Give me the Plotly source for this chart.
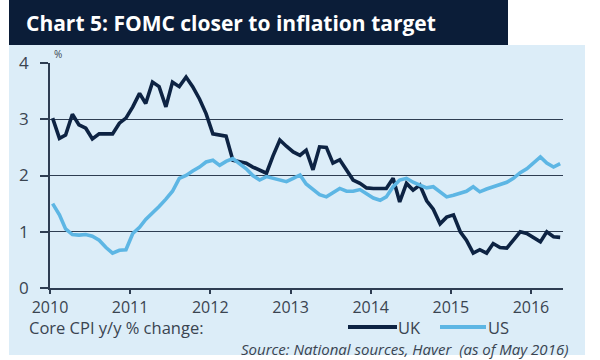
import pandas as pd
import plotly.graph_objects as go

# ---- data (core CPI y/y %, monthly Jan 2010 - May 2016) ----
start_month = "2010-01-01"
uk = [3.02, 2.66, 2.72, 3.09, 2.90, 2.84, 2.65, 2.74, 2.74, 2.74, 2.93, 3.02,
      3.22, 3.46, 3.28, 3.66, 3.58, 3.22, 3.66, 3.58, 3.75, 3.58, 3.36, 3.10,
      2.74, 2.72, 2.70, 2.27, 2.25, 2.22, 2.15, 2.10, 2.04, 2.35, 2.63, 2.52,
      2.42, 2.36, 2.45, 2.10, 2.51, 2.50, 2.22, 2.28, 2.10, 1.92, 1.86, 1.78,
      1.77, 1.77, 1.77, 1.95, 1.53, 1.86, 1.74, 1.83, 1.55, 1.40, 1.14, 1.26,
      1.30, 1.00, 0.85, 0.62, 0.68, 0.62, 0.79, 0.72, 0.71, 0.85, 1.00, 0.97,
      0.90, 0.82, 1.00, 0.91, 0.90]
us = [1.50, 1.30, 1.05, 0.95, 0.94, 0.95, 0.92, 0.85, 0.72, 0.62, 0.67, 0.68,
      0.97, 1.08, 1.22, 1.33, 1.45, 1.58, 1.72, 1.95, 2.00, 2.08, 2.15, 2.24,
      2.27, 2.18, 2.25, 2.30, 2.22, 2.12, 2.00, 1.92, 1.98, 1.95, 1.92, 1.89,
      1.95, 2.01, 1.85, 1.75, 1.66, 1.62, 1.70, 1.77, 1.72, 1.72, 1.75, 1.68,
      1.60, 1.56, 1.62, 1.80, 1.92, 1.95, 1.88, 1.83, 1.78, 1.80, 1.70, 1.62,
      1.65, 1.68, 1.72, 1.80, 1.71, 1.76, 1.80, 1.84, 1.88, 1.95, 2.05, 2.12,
      2.22, 2.33, 2.22, 2.15, 2.21]
year_ticks = ["2010", "2011", "2012", "2013", "2014", "2015", "2016"]
y_ticks = [0, 1, 2, 3, 4]

dates = pd.date_range(start_month, periods=len(uk), freq="MS") + pd.Timedelta(days=12)

# ---- layout geometry (pixels) ----
W, H = 600, 360
L, R, T, B = 50, 37, 63, 72
PW, PH = W - L - R, H - T - B

def px(x):
    return (x - L) / PW

def py(y):
    return (H - B - y) / PH

NAVY = "#0b1d38"
UKC = "#0d2343"
USC = "#5db6e4"
BG = "#dcedf8"
GRID = "#2e3d52"
TXT = "#3a4450"
FONT = "Open Sans"

fig = go.Figure()
fig.add_trace(go.Scatter(x=dates, y=uk, mode="lines", name="UK",
                         line=dict(color=UKC, width=3.6), showlegend=False))
fig.add_trace(go.Scatter(x=dates, y=us, mode="lines", name="US",
                         line=dict(color=USC, width=3.6), showlegend=False))

shapes = [
    dict(type="rect", xref="paper", yref="paper", x0=px(9), x1=px(585),
         y0=py(355), y1=py(45), fillcolor=BG, line_width=0, layer="below"),
    dict(type="rect", xref="paper", yref="paper", x0=px(9), x1=px(508),
         y0=py(45), y1=py(0), fillcolor=NAVY, line_width=0, layer="above"),
    dict(type="line", xref="paper", yref="paper", x0=px(348), x1=px(397),
         y0=py(327), y1=py(327), line=dict(color=UKC, width=4)),
    dict(type="line", xref="paper", yref="paper", x0=px(440), x1=px(486),
         y0=py(327), y1=py(327), line=dict(color=USC, width=4)),
]

annotations = [
    dict(text="<b>Chart 5: FOMC closer to inflation target</b>", xref="paper", yref="paper",
         x=px(24), y=py(23), xanchor="left", yanchor="middle", showarrow=False,
         font=dict(family=FONT, size=21, color="white")),
    dict(text="%", xref="paper", yref="paper", x=px(52), y=py(54),
         xanchor="left", yanchor="middle", showarrow=False,
         font=dict(family=FONT, size=10, color=TXT)),
    dict(text="Core CPI y/y % change:", xref="paper", yref="paper", x=px(27), y=py(327),
         xanchor="left", yanchor="middle", showarrow=False,
         font=dict(family=FONT, size=16.5, color=TXT)),
    dict(text="UK", xref="paper", yref="paper", x=px(396), y=py(327),
         xanchor="left", yanchor="middle", showarrow=False,
         font=dict(family=FONT, size=16.5, color=TXT)),
    dict(text="US", xref="paper", yref="paper", x=px(486), y=py(327),
         xanchor="left", yanchor="middle", showarrow=False,
         font=dict(family=FONT, size=16.5, color=TXT)),
    dict(text="<i>Source: National sources, Haver  (as of May 2016)</i>", xref="paper", yref="paper",
         x=px(570), y=py(349), xanchor="right", yanchor="middle", showarrow=False,
         font=dict(family=FONT, size=15, color=TXT)),
]

fig.update_layout(
    width=W, height=H,
    margin=dict(l=L, r=R, t=T, b=B),
    paper_bgcolor="white",
    plot_bgcolor="rgba(0,0,0,0)",
    shapes=shapes,
    annotations=annotations,
    font=dict(family=FONT, color=TXT),
    xaxis=dict(
        type="date",
        range=["2010-01-01", "2016-05-26"],
        tickvals=[f"{y}-01-01" for y in year_ticks],
        ticktext=year_ticks,
        showgrid=False, zeroline=False,
        showline=True, linecolor=GRID, linewidth=1.5,
        ticks="outside", ticklen=4, tickcolor=GRID, tickwidth=1.5,
        tickfont=dict(family=FONT, size=16, color=TXT),
    ),
    yaxis=dict(
        range=[0, 4],
        tickvals=y_ticks,
        showgrid=True, gridcolor=GRID, gridwidth=1.2,
        zeroline=False,
        showline=True, linecolor=GRID, linewidth=1.5,
        ticks="outside", ticklen=8, tickcolor=GRID, tickwidth=1.5,
        ticklabelstandoff=8,
        tickfont=dict(family=FONT, size=17, color=TXT),
    ),
)

fig.write_html("out.html", config={"displayModeBar": False})

# remove the browser's default page margin so the figure sits at the window's origin
with open("out.html", "r", encoding="utf-8") as f:
    html = f.read()
html = html.replace("<head>", "<head><style>html,body{margin:0;padding:0;overflow:hidden;}</style>", 1)
with open("out.html", "w", encoding="utf-8") as f:
    f.write(html)
